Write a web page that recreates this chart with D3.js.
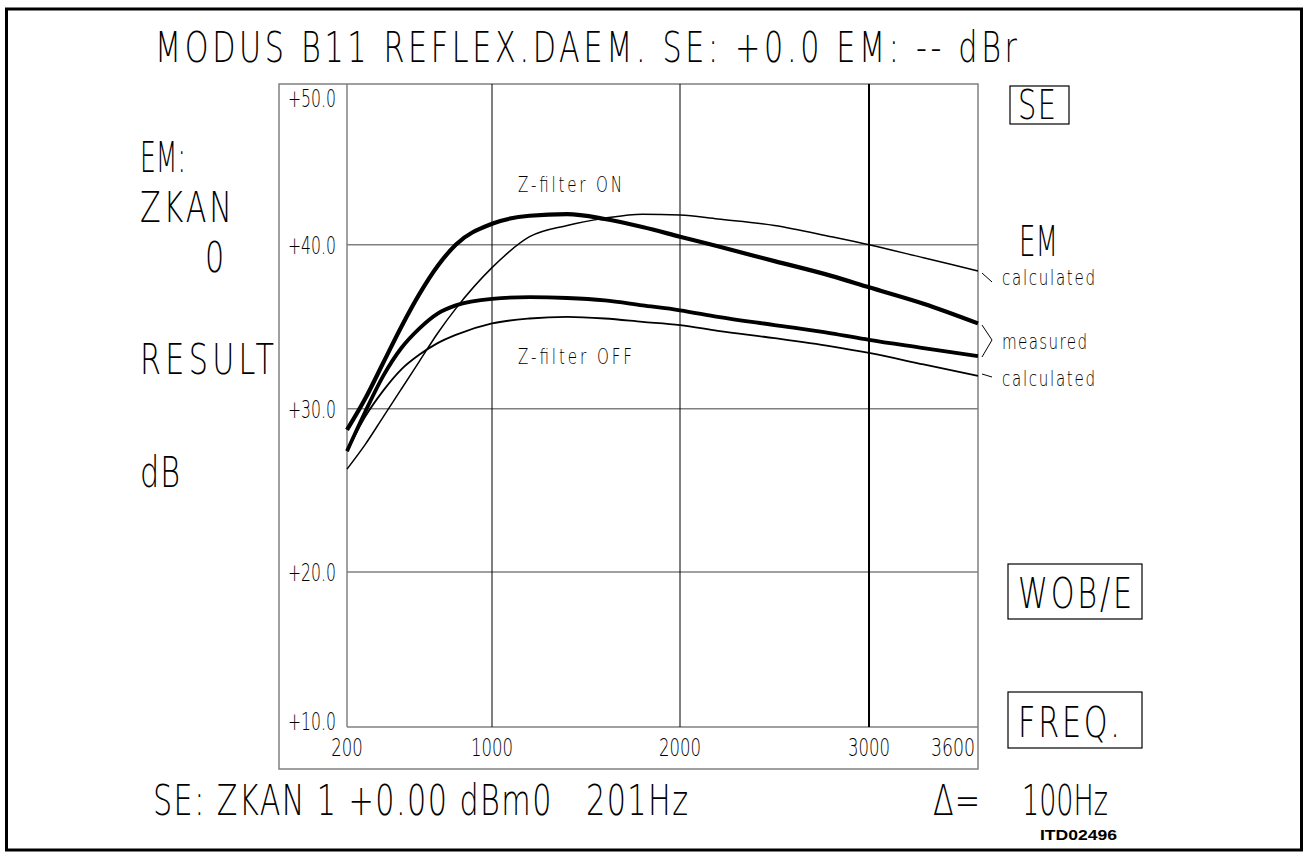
<!DOCTYPE html>
<html>
<head>
<meta charset="utf-8">
<script src="https://cdn.jsdelivr.net/npm/d3@7"></script>
<style>
  body { margin: 0; background: #fff; }
  text { font-family: "DejaVu Sans", sans-serif; font-weight: 200; fill: #000; white-space: pre; }
</style>
</head>
<body>
<div id="chart"></div>
<script>
// values (dB at each sweep frequency)
var freq          = [200, 300, 400, 500, 600, 700, 800, 1000, 1200, 1400, 1600, 1800, 2000, 2200, 2500, 2800, 3000, 3300, 3600];
var onMeasured    = [28.7, 30.6, 32.8, 35.0, 37.0, 38.7, 40.0, 41.3, 41.8, 41.9, 41.6, 41.1, 40.5, 39.9, 39.0, 38.1, 37.4, 36.4, 35.2];
var onCalculated  = [26.3, 27.8, 29.5, 31.2, 32.9, 34.6, 36.1, 38.6, 40.5, 41.2, 41.65, 41.9, 41.85, 41.6, 41.2, 40.5, 40.0, 39.2, 38.4];
var offMeasured   = [27.4, 29.8, 32.0, 33.7, 34.9, 35.8, 36.3, 36.7, 36.8, 36.75, 36.6, 36.3, 36.0, 35.6, 35.1, 34.6, 34.2, 33.7, 33.2];
var offCalculated = [27.4, 29.5, 31.1, 32.4, 33.3, 34.0, 34.5, 35.2, 35.5, 35.6, 35.5, 35.3, 35.1, 34.75, 34.3, 33.8, 33.4, 32.7, 32.0];

var xTicks = [200, 1000, 2000, 3000, 3600];
var yTicks = [10, 20, 30, 40, 50];
var yTickLabels = ["+10.0", "+20.0", "+30.0", "+40.0", "+50.0"];

var svgWidth = 1309;
var svgHeight = 858;

var svg = d3.select("#chart")
    .append("svg")
    .attr("width", svgWidth)
    .attr("height", svgHeight);

// plotter grid is not quite even, so map each grid line where it was drawn
var x = d3.scaleLinear().domain(xTicks).range([347, 492, 680, 869, 978]);
var y = d3.scaleLinear().domain(yTicks).range([727, 572, 408.7, 244.7, 84]);

var gray = "#808080";

// narrow plotter lettering: squeeze the glyphs, then spread the spacing
// out to the width the text takes in the plot
function label(px, py, str, size, width, anchor) {
    var g = svg.append("g");
    var t = g.append("text")
        .attr("x", 0)
        .attr("y", 0)
        .style("font-size", size + "px")
        .text(str);
    if (anchor) t.attr("text-anchor", anchor);
    var natural = t.node().getComputedTextLength();
    var s = Math.min(0.72, width / natural);
    g.attr("transform", `translate(${px},${py}) scale(${s},1)`);
    t.attr("textLength", width / s).attr("lengthAdjust", "spacing");
    return t;
}

// page frame
svg.append("rect")
    .attr("x", 6.5).attr("y", 9)
    .attr("width", 1295).attr("height", 841)
    .attr("fill", "none").attr("stroke", "#000").attr("stroke-width", 3);

// gray box that holds plot + tick labels
svg.append("rect")
    .attr("x", 279).attr("y", y(50))
    .attr("width", x(3600) - 279).attr("height", 769 - y(50))
    .attr("fill", "none").attr("stroke", gray).attr("stroke-width", 1.5);

// horizontal grid
svg.selectAll("line.hgrid")
    .data(yTicks.slice(0, 4))
    .enter()
    .append("line")
    .attr("x1", x(200)).attr("x2", x(3600))
    .attr("y1", d => y(d)).attr("y2", d => y(d))
    .attr("stroke", gray).attr("stroke-width", 1.5);

// left edge of plot
svg.append("line")
    .attr("x1", x(200)).attr("x2", x(200))
    .attr("y1", y(50)).attr("y2", y(10))
    .attr("stroke", gray).attr("stroke-width", 1.5);

// vertical grid
svg.selectAll("line.vgrid")
    .data([1000, 2000, 3000])
    .enter()
    .append("line")
    .attr("x1", d => x(d)).attr("x2", d => x(d))
    .attr("y1", y(50)).attr("y2", y(10))
    .attr("stroke", "#000")
    .attr("stroke-width", d => d == 3000 ? 2 : 1);

// y labels
yTicks.forEach(function(d, i) {
    var py = d == 50 ? y(d) + 23 : d == 10 ? y(d) + 3 : y(d) + 9;
    label(288, py, yTickLabels[i], 24, 48);
});

// x labels
xTicks.forEach(function(d) {
    var s = String(d);
    if (d == 3600) label(x(d) - 3, 756, s, 25, s.length * 11, "end");
    else label(x(d), 756, s, 25, s.length * 10.5, "middle");
});

// curves
var line = d3.line()
    .x((d, i) => x(freq[i]))
    .y(d => y(d))
    .curve(d3.curveMonotoneX);

[
    {v: onCalculated, w: 1.5},
    {v: offCalculated, w: 1.8},
    {v: offMeasured, w: 3.8},
    {v: onMeasured, w: 4.2}
].forEach(function(s) {
    svg.append("path")
        .attr("d", line(s.v))
        .attr("fill", "none")
        .attr("stroke", "#000")
        .attr("stroke-width", s.w)
        .attr("stroke-linejoin", "round");
});

// texts
label(155, 62, "MODUS B11 REFLEX.DAEM. SE: +0.0 EM: -- dBr", 42, 862);

label(140, 172, "EM:", 42, 46);
label(140, 222, "ZKAN", 42, 92);
label(205, 272, "0", 42, 20);
label(140, 374, "RESULT", 42, 134);
label(140, 487, "dB", 42, 40);

label(518, 192, "Z-filter ON", 21, 104);
label(518, 364, "Z-filter OFF", 21, 114);

svg.append("rect").attr("x", 1010).attr("y", 86).attr("width", 59).attr("height", 38)
    .attr("fill", "none").attr("stroke", "#000").attr("stroke-width", 1.2);
label(1018, 119, "SE", 40, 38);

label(1019, 256, "EM", 42, 39);
label(1002, 285, "calculated", 21, 93);
label(1002, 349, "measured", 21, 85);
label(1002, 386, "calculated", 21, 93);

// leader marks to the curve ends
var marks = [
    [[982, 273], [992, 282]],
    [[982, 325], [992, 340], [982, 357]],
    [[982, 374], [992, 377]]
];
marks.forEach(function(m) {
    svg.append("path")
        .attr("d", d3.line()(m))
        .attr("fill", "none").attr("stroke", "#000").attr("stroke-width", 1);
});

svg.append("rect").attr("x", 1008).attr("y", 564).attr("width", 134).attr("height", 55)
    .attr("fill", "none").attr("stroke", "#000").attr("stroke-width", 1.2);
label(1018, 608, "WOB/E", 42, 114);

svg.append("rect").attr("x", 1008).attr("y", 692).attr("width", 134).attr("height", 56)
    .attr("fill", "none").attr("stroke", "#000").attr("stroke-width", 1.2);
label(1018, 737, "FREQ.", 42, 102);

label(153, 815, "SE: ZKAN 1 +0.00 dBm0   201Hz", 42, 535);
label(933, 815, "\u0394=", 42, 47);
label(1022, 815, "100Hz", 42, 86);

svg.append("text")
    .attr("x", 1040).attr("y", 840)
    .attr("textLength", 77).attr("lengthAdjust", "spacingAndGlyphs")
    .style("font-family", "'Liberation Sans', Arial, sans-serif")
    .style("font-weight", 700)
    .style("font-size", "15px")
    .text("ITD02496");
</script>
</body>
</html>
